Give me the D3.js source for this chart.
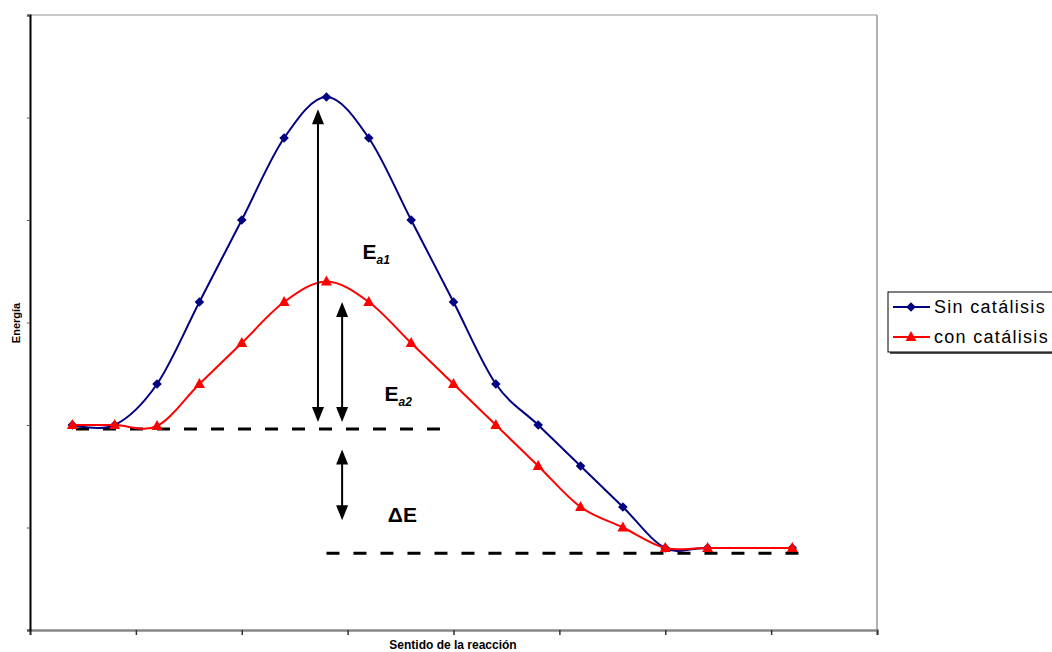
<!DOCTYPE html>
<html><head><meta charset="utf-8">
<script src="https://cdn.jsdelivr.net/npm/d3@7"></script>
<style>body{margin:0;background:#fff}svg{display:block}</style>
</head><body>
<script>
// Data
const xSin = [1,2,3,4,5,6,7,8,9,10,11,12,13,14,15,16,18];
const sinCatalisis = [20,20,24,32,40,48,52,48,40,32,24,20,16,12,8,8,8];
const xCon = [1,2,3,4,5,6,7,8,9,10,11,12,13,14,15,16,18];
const conCatalisis = [20,20,19.9,24,28,32,34,32,28,24,20,16,12,10,8,8,8];
const xTicks = [0,2.5,5,7.5,10,12.5,15,17.5,20];
const yTicks = [0,10,20,30,40,50,60];
const seriesNames = ["Sin catálisis","con catálisis"];
const arrows = [{x:6.8,y1:20.3,y2:50.8},{x:7.37,y1:20.3,y2:32},{x:7.37,y1:10.7,y2:17.6}];
const dashes = [{x1:1.086,x2:9.68,y:19.6},{x1:7.0,x2:18.2,y:7.5}];
const labels = [{x:7.85,y:36.2,main:"E",sub:"a1"},{x:8.37,y:22.3,main:"E",sub:"a2"},{x:8.45,y:10.5,main:"ΔE",sub:""}];

const W=1052,H=652;
const svg=d3.select("body").append("svg").attr("width",W).attr("height",H);
const L=30,R=877,T=15,B=630;
const x=d3.scaleLinear().domain([0,20]).range([L,R]);
const y=d3.scaleLinear().domain([0,60]).range([B,T]);

// plot borders
svg.append("line").attr("x1",L).attr("x2",R).attr("y1",T).attr("y2",T).attr("stroke","#c8c8c8").attr("stroke-width",2);
svg.append("line").attr("x1",R).attr("x2",R).attr("y1",T).attr("y2",B).attr("stroke","#999").attr("stroke-width",1.5);

// axes
const xAxis=svg.append("g").attr("transform",`translate(0,${B})`)
  .call(d3.axisBottom(x).tickValues(xTicks).tickSize(5).tickFormat(""));
xAxis.select(".domain").attr("stroke","#888").attr("stroke-width",2.5);
xAxis.selectAll(".tick line").attr("stroke","#333").attr("stroke-width",1.5);
const yAxis=svg.append("g").attr("transform",`translate(${L},0)`)
  .call(d3.axisLeft(y).tickValues(yTicks).tickSize(3).tickFormat(""));
yAxis.select(".domain").attr("stroke","#000").attr("stroke-width",2);
yAxis.selectAll(".tick line").attr("stroke","#555").attr("stroke-width",1);

// axis titles
svg.append("text").attr("x",453).attr("y",649).attr("text-anchor","middle")
  .attr("font-family","Liberation Sans Narrow, Liberation Sans, Arial").attr("font-weight","bold").attr("font-size",12)
  .text("Sentido de la reacción");
svg.append("text").attr("transform","translate(20,323) rotate(-90)").attr("text-anchor","middle")
  .attr("font-family","Liberation Sans Narrow, Liberation Sans, Arial").attr("font-weight","bold").attr("font-size",11)
  .text("Energía");

// dashed lines
dashes.forEach(d=>{
  svg.append("line").attr("x1",x(d.x1)).attr("x2",x(d.x2)).attr("y1",y(d.y)).attr("y2",y(d.y))
    .attr("stroke","#000").attr("stroke-width",3).attr("stroke-dasharray","13,14");
});

// series
const curve=d3.curveCardinal.tension(0);
const line=d3.line().x(d=>x(d[0])).y(d=>y(d[1])).curve(curve);
const blueData=xSin.map((v,i)=>[v,sinCatalisis[i]]);
const redData=xCon.map((v,i)=>[v,conCatalisis[i]]);
const blue="#000080", red="#ff0000";
const diamond="M0,-4.8L4.8,0L0,4.8L-4.8,0Z";
const tri="M0,-6L5.5,4L-5.5,4Z";
svg.append("path").attr("d",line(blueData)).attr("fill","none").attr("stroke",blue).attr("stroke-width",2);
svg.append("g").selectAll("path").data(blueData).join("path")
  .attr("transform",d=>`translate(${x(d[0])},${y(d[1])})`)
  .attr("d",diamond).attr("fill",blue);
svg.append("path").attr("d",line(redData)).attr("fill","none").attr("stroke",red).attr("stroke-width",2);
svg.append("g").selectAll("path").data(redData).join("path")
  .attr("transform",d=>`translate(${x(d[0])},${y(d[1])})`)
  .attr("d",tri).attr("fill",red);

// arrows
arrows.forEach(a=>{
  const px=x(a.x), top=y(a.y2), bot=y(a.y1);
  svg.append("line").attr("x1",px).attr("x2",px).attr("y1",top+10).attr("y2",bot-10).attr("stroke","#000").attr("stroke-width",2);
  svg.append("path").attr("d",`M${px},${top}L${px-6},${top+15}L${px+6},${top+15}Z`).attr("fill","#000");
  svg.append("path").attr("d",`M${px},${bot}L${px-6},${bot-15}L${px+6},${bot-15}Z`).attr("fill","#000");
});

// labels
labels.forEach(l=>{
  const t=svg.append("text").attr("x",x(l.x)).attr("y",y(l.y))
    .attr("font-family","Liberation Sans, Arial").attr("font-weight","bold").attr("font-size",21);
  t.append("tspan").text(l.main);
  if(l.sub) t.append("tspan").attr("dy",5).attr("font-size",12).attr("font-style","italic").text(l.sub);
});

// legend
const lg=svg.append("g");
lg.append("rect").attr("x",890).attr("y",294).attr("width",170).attr("height",60).attr("fill","#555");
lg.append("rect").attr("x",888).attr("y",292).attr("width",170).attr("height",60).attr("fill","#fff").attr("stroke","#000").attr("stroke-width",1);
const items=[{name:seriesNames[0],c:blue,sym:diamond},{name:seriesNames[1],c:red,sym:tri}];
items.forEach((it,i)=>{
  const cy=307+i*30;
  lg.append("line").attr("x1",893).attr("x2",930).attr("y1",cy).attr("y2",cy).attr("stroke",it.c).attr("stroke-width",2);
  lg.append("path").attr("transform",`translate(911,${cy})`).attr("d",it.sym).attr("fill",it.c);
  lg.append("text").attr("x",934).attr("y",cy+6).attr("font-family","Liberation Sans, Arial").attr("font-size",18)
    .style("letter-spacing","1.3px").attr("fill","#000").text(it.name);
});
</script>
</body></html>
